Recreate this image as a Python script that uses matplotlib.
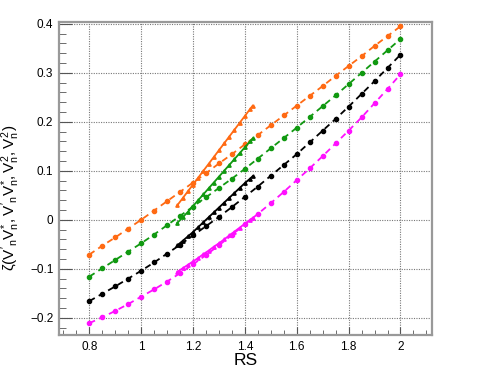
import numpy as np
import matplotlib
matplotlib.use('Agg')
import matplotlib.pyplot as plt
from matplotlib.ticker import MultipleLocator

plt.rcParams['font.family'] = ['Liberation Sans', 'DejaVu Sans']
plt.rcParams['mathtext.fontset'] = 'custom'
plt.rcParams['mathtext.rm'] = 'Liberation Sans'
plt.rcParams['mathtext.it'] = 'Liberation Sans'

# dashed series (circles), RS = 0.8 .. 2.0 step 0.05
rs = [0.80, 0.85, 0.90, 0.95, 1.00, 1.05, 1.10, 1.15, 1.20, 1.25, 1.30, 1.35, 1.40,
      1.45, 1.50, 1.55, 1.60, 1.65, 1.70, 1.75, 1.80, 1.85, 1.90, 1.95, 2.00]
orange_d = [-0.071, -0.053, -0.036, -0.018, 0.000, 0.019, 0.038, 0.057, 0.076, 0.095,
            0.115, 0.134, 0.154, 0.173, 0.193, 0.213, 0.233, 0.253, 0.273, 0.294,
            0.314, 0.334, 0.355, 0.375, 0.395]
green_d = [-0.116, -0.099, -0.082, -0.065, -0.048, -0.030, -0.011, 0.008, 0.027, 0.046,
           0.065, 0.084, 0.104, 0.125, 0.146, 0.167, 0.188, 0.210, 0.232, 0.254,
           0.277, 0.300, 0.323, 0.346, 0.369]
black_d = [-0.166, -0.151, -0.136, -0.120, -0.104, -0.087, -0.069, -0.051, -0.032, -0.013,
           0.006, 0.026, 0.047, 0.068, 0.090, 0.112, 0.134, 0.158, 0.182, 0.206,
           0.231, 0.257, 0.283, 0.310, 0.337]
magenta_d = [-0.211, -0.199, -0.186, -0.172, -0.157, -0.142, -0.126, -0.109, -0.091, -0.072,
             -0.052, -0.031, -0.009, 0.012, 0.034, 0.057, 0.081, 0.105, 0.130, 0.156,
             0.182, 0.209, 0.238, 0.267, 0.297]

# solid series (triangles), RS = 1.14 .. 1.43
rs_s = [1.14, 1.16, 1.18, 1.20, 1.22, 1.24, 1.26, 1.28, 1.30, 1.32, 1.34, 1.36, 1.38,
        1.40, 1.42, 1.43]
orange_s = [0.030, 0.044, 0.058, 0.072, 0.086, 0.100, 0.114, 0.128, 0.142, 0.156,
            0.170, 0.184, 0.198, 0.212, 0.226, 0.233]
green_s = [-0.006, 0.005, 0.016, 0.028, 0.040, 0.052, 0.064, 0.076, 0.088, 0.100,
           0.112, 0.124, 0.136, 0.148, 0.160, 0.166]
black_s = [-0.052, -0.043, -0.034, -0.025, -0.015, -0.005, 0.005, 0.015, 0.025, 0.035,
           0.045, 0.055, 0.065, 0.075, 0.084, 0.089]
magenta_s = [-0.106, -0.099, -0.092, -0.085, -0.078, -0.070, -0.063, -0.055, -0.048, -0.040,
             -0.032, -0.024, -0.016, -0.008, 0.000, 0.004]

colors = ['#ff6a13', '#119911', 'black', '#ff10ff']

fig = plt.figure(figsize=(4.91, 3.73), dpi=100)
ax = fig.add_axes([0.120, 0.102, 0.759, 0.838])

for yd, ys, c in zip([orange_d, green_d, black_d, magenta_d],
                     [orange_s, green_s, black_s, magenta_s], colors):
    ax.plot(rs, yd, color=c, lw=1.3, ls=(0, (3.5, 2.5)), marker='o', ms=3.0, zorder=3)
    ax.plot(rs_s, ys, color=c, lw=1.3, ls='-', marker='^', ms=2.4, zorder=3)

ax.set_xlim(0.683, 2.12)
ax.set_ylim(-0.235, 0.403)
ax.xaxis.set_major_locator(MultipleLocator(0.2))
ax.xaxis.set_minor_locator(MultipleLocator(0.05))
ax.yaxis.set_major_locator(MultipleLocator(0.1))
ax.yaxis.set_minor_locator(MultipleLocator(0.02))
ax.set_xticks([0.8, 1.0, 1.2, 1.4, 1.6, 1.8, 2.0])
ax.set_xticklabels(['0.8', '1', '1.2', '1.4', '1.6', '1.8', '2'])
ax.set_yticks([-0.2, -0.1, 0, 0.1, 0.2, 0.3, 0.4])
ax.set_yticklabels(['\u22120.2', '\u22120.1', '0', '0.1', '0.2', '0.3', '0.4'])

ax.tick_params(which='both', direction='in', labelsize=8.5, color='#555555')
ax.tick_params(axis='x', which='major', length=6, pad=4)
ax.tick_params(axis='x', which='minor', length=3.5)
ax.tick_params(axis='y', which='major', length=9, pad=4)
ax.tick_params(axis='y', which='minor', length=5)

ax.grid(True, which='major', ls=(0, (1, 1.2)), color='#777777', lw=0.8)
ax.set_axisbelow(True)
for s in ax.spines.values():
    s.set_color('#999999')
    s.set_linewidth(1.6)

ax.set_xlabel('RS', fontsize=12.5, va='top')
ax.xaxis.set_label_coords(0.5, -0.058)
ax.set_ylabel(r"$\zeta(V'_{n}V^{*}_{n}, V'_{n}V^{*}_{n}, V^{2}_{n}, V^{2}_{n})$", fontsize=11)
ax.yaxis.set_label_coords(-0.10, 0.44)

fig.savefig('out.png', dpi=100)
